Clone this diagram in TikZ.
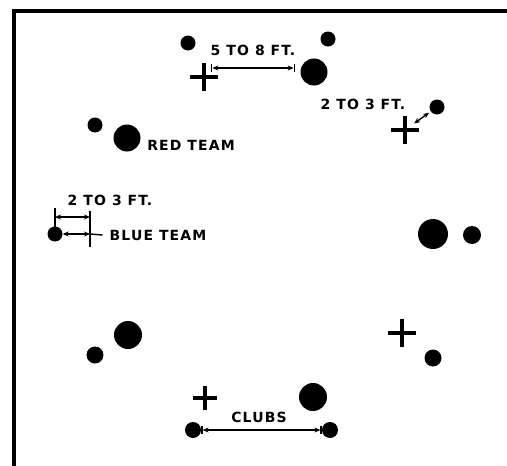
\documentclass[tikz,border=0pt]{standalone}
\usepackage{fontspec}
\newfontfamily\labelfont[LetterSpace=8]{DejaVu Sans}
\usetikzlibrary{positioning,arrows.meta,shapes.misc}

\begin{document}
\begin{tikzpicture}[x=1pt,y=-1pt,>={Stealth[length=6pt,width=5pt]},
  player/.style={circle,fill=black,inner sep=0pt,minimum size=27pt},
  ball/.style={circle,fill=black,inner sep=0pt,minimum size=15pt},
  peg/.style={cross out,rotate=45,draw,line width=3.2pt,inner sep=0pt,minimum size=17pt},
  lbl/.style={font=\labelfont\bfseries\fontsize{14}{16}\selectfont,inner sep=0pt},
  dim/.style={|<->|,line width=1.4pt}]
\useasboundingbox (0,0) rectangle (507,466);
% frame
\draw[line width=3.5pt] (14,470) -- (14,11) -- (510,11);

% top
\node[ball] (b1) at (188,43) {};
\node[ball] (b2) at (328,39) {};
\node[player] (p1) at (314,72) {};
\node[peg] (c1) at (204,77) {};
\node[lbl] (t1) at (253,50) {5 TO 8 FT.};
\coordinate (a1) at (211,68);
\coordinate (a2) at (295,68);
\draw[dim] (a1) -- (a2);

% upper right
\node[ball] (b3) at (437,107) {};
\node[peg] (c2) at (405,130) {};
\node[lbl] (t2) at (363,104) {2 TO 3 FT.};
\draw[<->,line width=1.4pt,shorten <=1pt,shorten >=2pt] (c2) -- (b3);

% red team
\node[ball] (b4) at (95,125) {};
\node[player] (p2) at (127,138) {};
\node[lbl] (t3) at (191,145) {RED TEAM};

% blue team
\node[ball] (b5) at (55,234) {};
\node[lbl] (t4) at (110,200) {2 TO 3 FT.};
\node[lbl] (t5) at (158,235) {BLUE TEAM};
\coordinate (e1) at (55,208);
\coordinate (e2) at (90,211);
\coordinate (e3) at (90,247);
\draw[line width=1.2pt] (b5.center) -- (e1);
\draw[line width=1.2pt] (e2) -- (e3);
\draw[<->,line width=1.4pt] (e1 |- 0,217) -- (e2 |- 0,217);
\draw[<->,line width=1.4pt] (b5) -- (b5 -| e2);
\draw[line width=1.4pt] (b5 -| e2) -- ([xshift=-7pt]t5.west);

% right
\node[player,minimum size=30pt] (p3) at (433,234) {};
\node[ball,minimum size=18pt] (b6) at (472,235) {};

% lower left
\node[ball,minimum size=17pt] (b7) at (95,355) {};
\node[player,minimum size=28pt] (p4) at (128,335) {};

% lower right
\node[peg] (c3) at (402,333) {};
\node[ball,minimum size=17pt] (b8) at (433,358) {};

% bottom
\node[peg,minimum size=14pt] (c4) at (205,398) {};
\node[player,minimum size=28pt] (p5) at (313,397) {};
\node[ball,minimum size=16pt] (b9) at (193,430) {};
\node[ball,minimum size=16pt] (b10) at (330,430) {};
\node[lbl] (t6) at (259,417) {CLUBS};
\draw[dim] (b9) -- (b10);
\end{tikzpicture}
\end{document}
